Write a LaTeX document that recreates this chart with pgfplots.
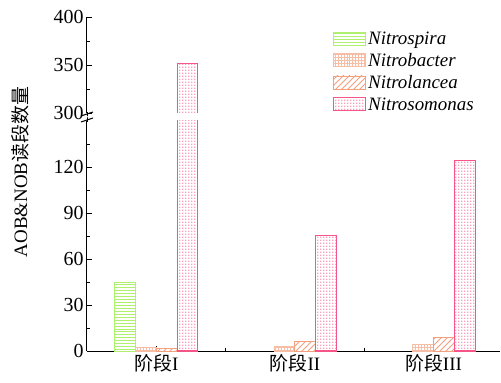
\documentclass[border=0pt]{standalone}
\usepackage{fontspec}
\setmainfont{Liberation Serif}
\newfontfamily\cjk{Noto Sans CJK SC}
\usepackage{pgfplots}
\pgfplotsset{compat=1.18}
\usetikzlibrary{patterns}
\pgfdeclarepatternformonly{wideNE}{\pgfqpoint{-1bp}{-1bp}}{\pgfqpoint{7bp}{7bp}}{\pgfqpoint{6bp}{6bp}}{%
  \pgfsetlinewidth{0.8bp}%
  \pgfpathmoveto{\pgfqpoint{-0.2bp}{-0.2bp}}\pgfpathlineto{\pgfqpoint{6.2bp}{6.2bp}}\pgfusepath{stroke}}
\pgfdeclarepatternformonly{fineDots}{\pgfqpoint{0bp}{0bp}}{\pgfqpoint{2.6bp}{2.6bp}}{\pgfqpoint{2.6bp}{2.6bp}}{%
  \pgfpathrectangle{\pgfqpoint{0.2bp}{0.2bp}}{\pgfqpoint{1.3bp}{1.3bp}}\pgfusepath{fill}}
\definecolor{cspira}{RGB}{175,240,110}
\definecolor{cbact}{RGB}{248,190,165}
\definecolor{clanc}{RGB}{242,160,125}
\definecolor{csomo}{RGB}{245,85,135}
\pgfplotsset{
  myleg/.style={legend image code/.code={\draw[##1] (0bp,-6bp) rectangle (32bp,7bp);}},
  base/.style={scale only axis, width=413bp, xmin=0.5, xmax=3.48,
    ybar, bar width=0.15,
    tick align=inside,
    tick style={black, line width=0.9bp},
    axis line style={line width=1bp},
    major tick length=5bp, minor tick length=3bp,
    tick label style={font=\fontsize{20}{20}\selectfont},
    /pgf/number format/assume math mode=true},
  spira/.style={draw=cspira, line width=0.9bp, pattern color=cspira, pattern=horizontal lines, bar shift=-0.225, myleg},
  bact/.style={draw=cbact, line width=0.9bp, pattern color=cbact, pattern=grid, bar shift=-0.075, myleg},
  lanc/.style={draw=clanc, line width=0.9bp, pattern color=clanc, pattern=wideNE, bar shift=0.075, myleg},
  somo/.style={draw=csomo, line width=1.1bp, pattern color=csomo!55, pattern=fineDots, bar shift=0.225, myleg},
}
\begin{document}
\begin{tikzpicture}
\useasboundingbox (-87bp,-32bp) rectangle (414bp,351bp);
\begin{axis}[base, at={(0,0)}, anchor=origin, height=230bp,
  ymin=0, ymax=150,
  axis x line*=bottom, axis y line*=left,
  xtick={1,2,3}, minor xtick={1.5,2.5},
  xticklabels={{\cjk 阶段}I,{\cjk 阶段}II,{\cjk 阶段}III},
  x tick label style={font=\fontsize{19}{19}\selectfont},
  ytick={0,30,60,90,120}, minor ytick={15,45,75,105,135},
  legend style={at={(0.588,1.405)}, anchor=north west, draw=none, fill=none,
    font=\fontsize{19}{19}\selectfont\itshape, row sep=3.5bp},
  legend cell align=left,
]
\addplot[spira] coordinates {(1,45)};
\addplot[bact] coordinates {(1,2.5) (2,3) (3,4.5)};
\addplot[lanc] coordinates {(1,1.8) (2,6) (3,9)};
\addplot[somo] coordinates {(1,352) (2,75.5) (3,124.5)};
\legend{Nitrospira,Nitrobacter,Nitrolancea,Nitrosomonas}
\end{axis}
\begin{axis}[base, at={(0,238bp)}, anchor=south west, height=96bp,
  ymin=300, ymax=400,
  axis x line=none, axis y line*=left,
  ytick={300,350,400}, minor ytick={325,375},
]
\addplot[somo, draw=none] coordinates {(1,352)};
\addplot[sharp plot, no marks, draw=csomo, line width=1.1bp, forget plot] coordinates {(1.15,290) (1.15,352) (1.30,352) (1.30,290)};
\end{axis}
\draw[line width=1bp] (0,229bp) -- (0,239bp);
\fill[white] (-6bp,231.5bp) -- (6bp,235.5bp) -- (6bp,236.5bp) -- (-6bp,232.5bp) -- cycle;
\draw[line width=1bp] (-6bp,229bp) -- (6bp,233bp);
\draw[line width=1bp] (-6bp,235bp) -- (6bp,239bp);
\node[rotate=90, font=\fontsize{19}{19}\selectfont] at (-67bp,179bp) {AOB\&NOB{\cjk 读段数量}};
\end{tikzpicture}
\end{document}
